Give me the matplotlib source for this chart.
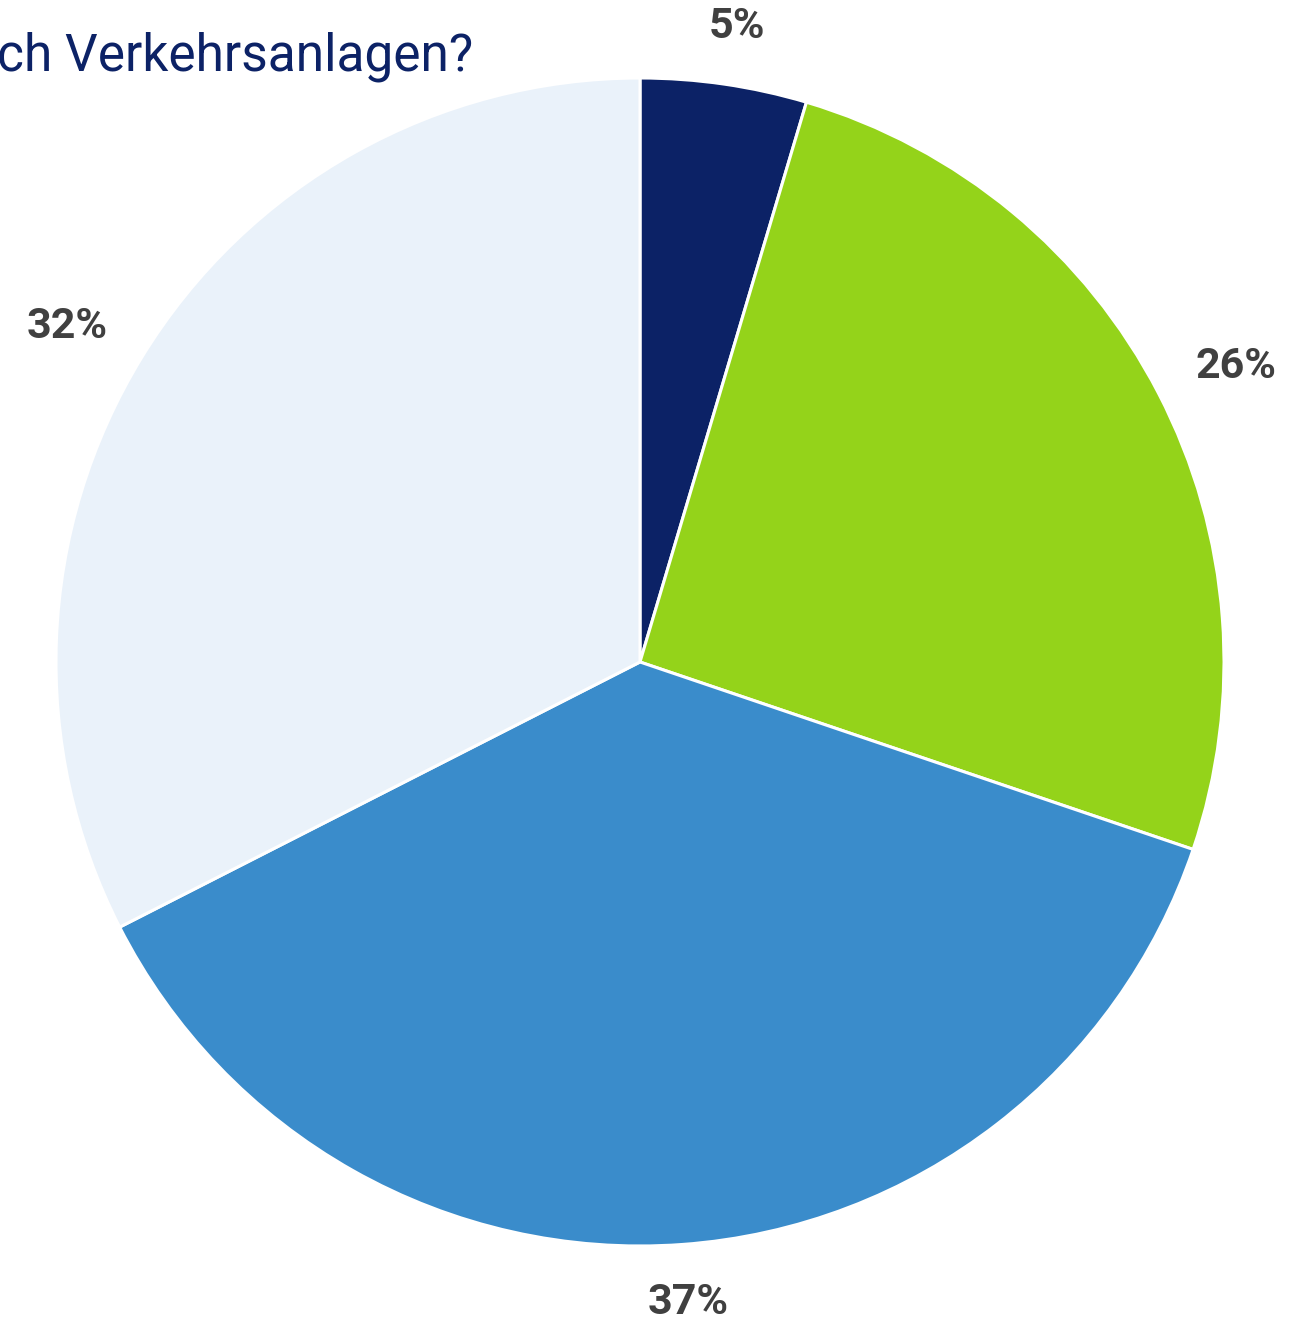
import numpy as np
import matplotlib
matplotlib.use('Agg')
import matplotlib.pyplot as plt

# slice shares, clockwise from 12 o'clock
values = [4.6, 25.6, 37.3, 32.5]
labels = ['5%', '26%', '37%', '32%']
colors = ['#0c2266', '#94d31a', '#3a8ccb', '#eaf2fa']
title = 'ch Verkehrsanlagen?'

W, H = 1307, 1322
fig = plt.figure(figsize=(W / 100, H / 100), dpi=100)
ax = fig.add_axes([0, 0, 1, 1])

wedges, _ = ax.pie(values, colors=colors, startangle=90, counterclock=False,
                   radius=1, wedgeprops=dict(edgecolor='white', linewidth=2.2))

cx, cy, R = 640, 662, 584  # pixel center / radius of pie
ax.set_xlim(-cx / R, (W - cx) / R)
ax.set_ylim(-(H - cy) / R, cy / R)
ax.axis('off')

for w, lab in zip(wedges, labels):
    mid = np.deg2rad((w.theta1 + w.theta2) / 2)
    x = 1.15 * np.cos(mid)
    y = 1.1 * np.sin(mid)
    ax.text(x, y, lab, ha='center', va='center', fontsize=31,
            fontweight='bold', family='Roboto', color='#404040')

fig.text(473 / W, 1 - 70 / H, title, ha='right', va='baseline',
         fontsize=37, family='Roboto', color='#0c2266')

fig.savefig('out.png', dpi=100)
